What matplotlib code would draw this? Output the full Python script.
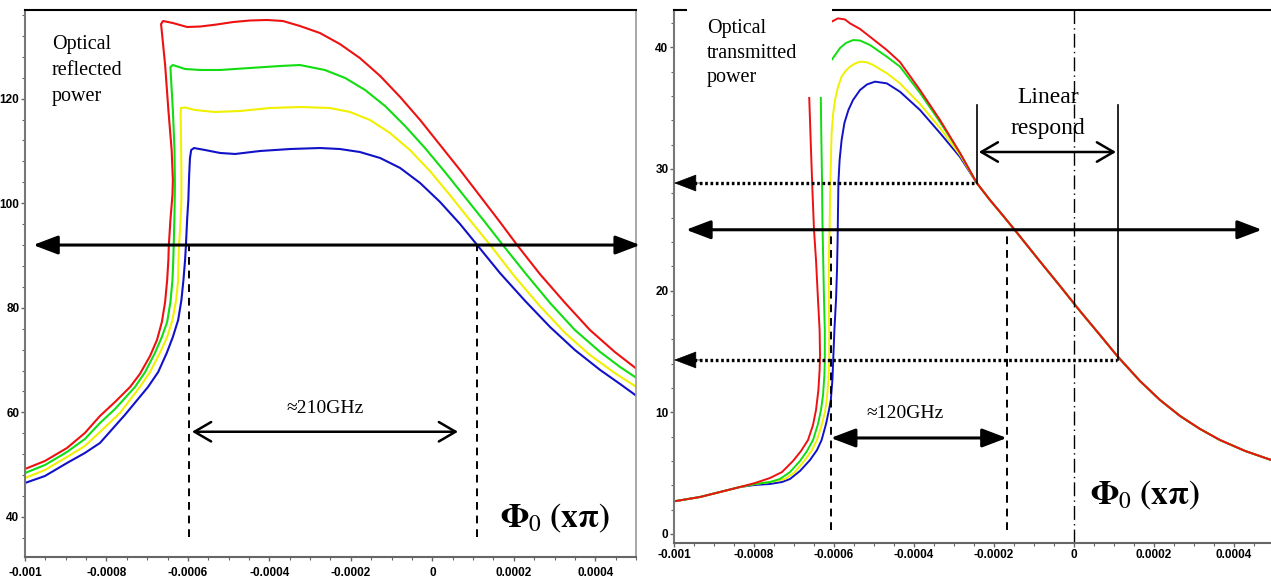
import matplotlib
matplotlib.use("Agg")
import matplotlib.pyplot as plt
import matplotlib.patches as mpatches
from matplotlib.ticker import MultipleLocator, FixedLocator, FixedFormatter

plt.rcParams['mathtext.fontset'] = 'stix'

# x values are in units of 1e-4 (phase offset, x pi)
# ---------------- left panel: optical reflected power ----------------
refl_red_x = [-10.00, -9.51, -8.97, -8.53, -8.16, -7.79, -7.42, -7.18, -6.93, -6.76, -6.64, -6.56, -6.51,
              -6.48, -6.47, -6.43, -6.38, -6.37, -6.40, -6.48, -6.56, -6.64, -6.66, -6.61, -6.37, -6.02,
              -5.70, -5.29, -4.89, -4.48, -4.06, -3.67, -3.25, -2.76, -2.27, -1.78, -1.28, -0.79, -0.30,
              0.19, 0.68, 1.17, 1.66, 2.08, 2.64, 3.26, 3.87, 4.48, 5.05]
refl_red_y = [49.18, 50.71, 53.19, 56.06, 59.31, 61.99, 64.86, 67.34, 70.78, 73.84, 77.28, 81.11, 85.31,
              89.14, 91.81, 96.79, 101.57, 104.43, 110.17, 117.82, 126.42, 132.73, 134.26, 134.84, 134.45,
              133.69, 133.78, 134.17, 134.64, 134.93, 135.03, 134.84, 133.88, 132.54, 130.44, 127.76,
              124.32, 120.30, 115.91, 111.13, 106.35, 101.38, 96.40, 92.01, 86.46, 80.92, 75.75, 71.55, 68.11]
refl_green_x = [-10.00, -9.51, -8.97, -8.53, -8.16, -7.79, -7.30, -7.05, -6.81, -6.64, -6.51, -6.43, -6.38,
                -6.36, -6.35, -6.33, -6.32, -6.33, -6.37, -6.42, -6.43, -6.37, -6.07, -5.70, -5.21, -4.48,
                -3.74, -3.25, -2.64, -2.14, -1.65, -1.16, -0.67, -0.18, 0.31, 0.80, 1.29, 1.73, 2.28, 2.89,
                3.50, 4.12, 4.61, 5.05]
refl_green_y = [48.41, 49.94, 52.43, 54.91, 57.97, 60.65, 64.86, 67.72, 71.36, 74.42, 77.28, 81.11, 85.31,
                89.14, 91.81, 97.74, 103.48, 110.17, 117.82, 124.51, 126.04, 126.42, 125.66, 125.47, 125.47,
                125.85, 126.23, 126.42, 125.47, 123.94, 121.64, 118.58, 114.76, 110.55, 105.96, 101.18,
                96.40, 92.01, 86.65, 80.92, 75.75, 71.55, 68.68, 66.39]
refl_yellow_x = [-10.00, -9.51, -8.97, -8.53, -8.16, -7.67, -7.18, -6.93, -6.69, -6.51, -6.38, -6.29, -6.24,
                 -6.23, -6.22, -6.18, -6.16, -6.16, -6.17, -6.18, -6.17, -6.07, -5.83, -5.34, -4.72, -3.99,
                 -3.25, -2.51, -2.02, -1.53, -1.04, -0.55, -0.06, 0.43, 0.92, 1.42, 2.03, 2.64, 3.26, 3.87,
                 4.48, 5.05]
refl_yellow_y = [47.46, 48.99, 51.47, 53.58, 56.25, 59.88, 64.86, 67.72, 71.36, 74.42, 77.67, 81.49, 85.31,
                 89.14, 91.81, 96.79, 100.61, 106.35, 112.08, 116.86, 118.20, 118.30, 117.82, 117.44, 117.63,
                 118.20, 118.39, 118.20, 117.44, 115.91, 113.42, 110.17, 106.16, 101.57, 96.79, 92.01,
                 85.89, 80.34, 75.18, 70.97, 67.53, 64.66]
refl_blue_x = [-10.00, -9.51, -8.97, -8.53, -8.16, -7.55, -6.98, -6.73, -6.52, -6.37, -6.24, -6.16, -6.11,
               -6.07, -6.05, -6.02, -5.99, -5.97, -5.95, -5.92, -5.85, -5.58, -5.21, -4.84, -4.23, -3.49,
               -2.76, -2.27, -1.78, -1.28, -0.79, -0.30, 0.19, 0.68, 1.10, 1.66, 2.28, 2.89, 3.50, 4.12,
               4.61, 5.05]
refl_blue_y = [46.50, 47.84, 50.32, 52.24, 54.15, 59.50, 64.86, 67.72, 71.36, 74.42, 77.67, 81.49, 85.31,
               89.14, 91.81, 96.79, 100.61, 105.39, 108.64, 110.17, 110.55, 110.17, 109.60, 109.41, 109.98,
               110.36, 110.55, 110.36, 109.79, 108.64, 106.73, 103.86, 100.23, 96.02, 92.01, 86.65, 81.30,
               76.33, 71.93, 68.11, 65.43, 62.94]

# ---------------- right panel: optical transmitted power ----------------
tail_x = [-2.10, -1.85, -1.48, -0.90, -0.35, 0.15, 0.65, 1.08, 1.65, 2.15, 2.65, 3.15, 3.65, 4.28, 4.93]
tail_y = [27.44, 26.46, 24.98, 22.60, 20.38, 18.32, 16.35, 14.63, 12.57, 11.01, 9.70, 8.63, 7.72, 6.82, 6.08]

trans_red_x = [-9.95, -9.35, -8.85, -8.35, -7.975, -7.60, -7.30, -7.025, -6.825, -6.65, -6.525, -6.45, -6.39,
               -6.36, -6.35, -6.36, -6.40, -6.45, -6.50, -6.54, -6.575, -6.62, -6.65, -6.35, -6.06, -5.90,
               -5.725, -5.60, -5.35, -5.10, -4.68, -4.35, -3.85, -3.35, -2.85, -2.43] + tail_x
trans_red_y = [2.71, 3.04, 3.45, 3.86, 4.19, 4.60, 5.09, 6.00, 6.82, 7.72, 8.96, 10.19, 11.83,
               13.48, 14.71, 16.76, 19.23, 22.51, 24.98, 28.27, 31.55, 35.91, 38.13, 40.59, 42.10, 42.37,
               42.28, 41.96, 41.50, 40.86, 39.77, 38.78, 36.48, 34.02, 31.31, 28.84] + tail_y
trans_green_x = [-9.95, -9.35, -8.85, -8.35, -7.975, -7.60, -7.35, -7.10, -6.85, -6.675, -6.525, -6.40, -6.325,
                 -6.275, -6.24, -6.23, -6.23, -6.25, -6.27, -6.29, -6.30, -6.32, -6.33, -6.33, -6.20, -6.06,
                 -5.85, -5.70, -5.52, -5.35, -5.10, -4.68, -4.35, -3.85, -3.35, -2.85, -2.43] + tail_x
trans_green_y = [2.71, 3.04, 3.45, 3.86, 4.11, 4.27, 4.52, 5.09, 6.00, 6.82, 7.72, 9.04, 10.19,
                 11.42, 13.07, 14.30, 16.76, 19.23, 22.51, 25.80, 29.09, 33.20, 35.91, 37.72, 38.54, 38.95,
                 39.93, 40.35, 40.59, 40.55, 40.18, 39.22, 38.40, 36.24, 33.85, 31.31, 28.84] + tail_y
trans_yellow_x = [-9.95, -9.35, -8.85, -8.35, -7.975, -7.60, -7.225, -6.975, -6.725, -6.55, -6.425, -6.30,
                  -6.225, -6.175, -6.14, -6.12, -6.12, -6.13, -6.13, -6.11, -6.10, -6.08, -6.06, -6.025,
                  -5.975, -5.90, -5.81, -5.70, -5.60, -5.475, -5.35, -5.20, -5.02, -4.68, -4.35, -3.85,
                  -3.35, -2.85, -2.43] + tail_x
trans_yellow_y = [2.71, 3.04, 3.45, 3.86, 4.11, 4.27, 4.52, 5.09, 6.08, 6.90, 7.72, 9.04,
                  10.02, 11.18, 12.65, 14.30, 16.76, 19.23, 22.51, 24.98, 27.44, 30.32, 32.95, 34.43,
                  35.66, 36.73, 37.58, 38.09, 38.40, 38.66, 38.81, 38.78, 38.54, 37.86, 37.03, 35.33,
                  33.36, 31.14, 28.84] + tail_y
trans_blue_x = [-9.95, -9.35, -8.85, -8.35, -7.975, -7.60, -7.30, -7.10, -6.85, -6.60, -6.425, -6.31, -6.20,
                -6.125, -6.08, -6.04, -6.02, -5.99, -5.95, -5.925, -5.91, -5.90, -5.89, -5.86, -5.81, -5.74,
                -5.64, -5.525, -5.35, -5.175, -4.975, -4.68, -4.35, -3.85, -3.35, -2.85, -2.43] + tail_x
trans_blue_y = [2.71, 3.04, 3.45, 3.86, 4.03, 4.11, 4.27, 4.52, 5.18, 6.08, 6.90, 7.72, 9.04,
                10.19, 11.01, 12.65, 14.30, 16.76, 19.23, 21.69, 24.16, 26.62, 28.84, 30.73, 32.37, 33.77,
                34.84, 35.66, 36.48, 36.94, 37.17, 37.03, 36.34, 34.84, 32.95, 30.98, 28.84] + tail_y

x_ticks = [-10, -8, -6, -4, -2, 0, 2, 4]
x_labels = ['-0.001', '-0.0008', '-0.0006', '-0.0004', '-0.0002', '0', '0.0002', '0.0004']
refl_yticks = [40, 60, 80, 100, 120]
trans_yticks = [0, 10, 20, 30, 40]

colors = {'red': '#ee1111', 'green': '#11dd11', 'yellow': '#f0f000', 'blue': '#1111c8'}
serif = 'Liberation Serif'
phi_label = r'$\mathbf{\Phi}_{0}\ \mathbf{(x\pi)}$'

fig = plt.figure(figsize=(12.71, 5.8), dpi=100)
ax1 = fig.add_axes([0.01967, 0.03966, 0.48072, 0.94310])
ax2 = fig.add_axes([0.5303, 0.0638, 0.4697, 0.9190])


def style_axes(ax, yticks, yminor, xpad):
    ax.xaxis.set_major_locator(FixedLocator(x_ticks))
    ax.xaxis.set_major_formatter(FixedFormatter(x_labels))
    ax.xaxis.set_minor_locator(MultipleLocator(0.5))
    ax.yaxis.set_major_locator(FixedLocator(yticks))
    ax.yaxis.set_minor_locator(MultipleLocator(yminor))
    ax.tick_params(which='major', direction='out', length=3, width=1, color='#666666', pad=1)
    ax.tick_params(axis='x', which='major', pad=xpad)
    ax.tick_params(which='minor', direction='out', length=2, width=0.8, color='#666666')
    for lab in ax.get_xticklabels() + ax.get_yticklabels():
        lab.set_fontfamily('Liberation Sans')
        lab.set_fontweight('bold')
        lab.set_fontsize(8.5)
    ax.spines['left'].set_color('#777777')
    ax.spines['bottom'].set_color('#666666')
    ax.spines['left'].set_linewidth(1.5)
    ax.spines['bottom'].set_linewidth(1.5)
    ax.spines['top'].set_color('black')
    ax.spines['top'].set_linewidth(1.5)


def filled_arrow(ax, x0, x1, y, style='<|-|>', lw=2.2):
    ax.annotate('', xy=(x1, y), xytext=(x0, y), annotation_clip=False,
                arrowprops=dict(arrowstyle=style + ',head_length=1.0,head_width=0.38',
                                mutation_scale=15, lw=lw, color='black',
                                shrinkA=0, shrinkB=0), zorder=5)


def open_arrow(ax, x0, x1, y):
    ax.annotate('', xy=(x1, y), xytext=(x0, y), annotation_clip=False,
                arrowprops=dict(arrowstyle='<->,head_length=0.6,head_width=0.35',
                                mutation_scale=20, lw=1.8, color='black',
                                shrinkA=0, shrinkB=0), zorder=5)


# ---------------- left panel ----------------
ax1.plot(refl_blue_x, refl_blue_y, color=colors['blue'], lw=1.5)
ax1.plot(refl_yellow_x, refl_yellow_y, color=colors['yellow'], lw=1.5)
ax1.plot(refl_green_x, refl_green_y, color=colors['green'], lw=1.5)
ax1.plot(refl_red_x, refl_red_y, color=colors['red'], lw=1.5)
ax1.set_xlim(-10, 5)
ax1.set_ylim(32.35, 136.94)
style_axes(ax1, refl_yticks, 4, 4.5)
ax1.spines['right'].set_color('#999999')
ax1.spines['right'].set_linewidth(1.2)

filled_arrow(ax1, -9.80, 5.10, 92.0)
for xv in [-5.97, 1.10]:
    ax1.plot([xv, xv], [36.2, 91.8], color='black', lw=1.4, ls=(0, (4, 3)))
open_arrow(ax1, -5.90, 0.63, 56.3)
ax1.text(-2.64, 60.8, '≈210GHz', family=serif, fontsize=14, ha='center', va='center')
ax1.text(-9.34, 132.2, 'Optical\nreflected\npower', family=serif, fontsize=14.5,
         ha='left', va='top', linespacing=1.5)
ax1.text(1.66, 39.8, phi_label, fontsize=24, ha='left', va='center')

# ---------------- right panel ----------------
ax2.plot(trans_blue_x, trans_blue_y, color=colors['blue'], lw=1.4)
ax2.plot(trans_yellow_x, trans_yellow_y, color=colors['yellow'], lw=1.4)
ax2.plot(trans_green_x, trans_green_y, color=colors['green'], lw=1.4)
ax2.plot(trans_red_x, trans_red_y, color=colors['red'], lw=1.4)
ax2.set_xlim(-10, 4.925)
ax2.set_ylim(-0.74, 43.06)
style_axes(ax2, trans_yticks, 2, 1.5)
ax2.spines['right'].set_visible(False)

# dotted level lines with arrowheads on the axis
for yv, xr in [(28.84, -2.43), (14.30, 1.08)]:
    ax2.plot([-9.5, xr], [yv, yv], color='black', lw=2.4, ls=(0, (0.8, 0.8)))
    filled_arrow(ax2, -9.3, -10.0, yv, style='-|>', lw=0.5)

filled_arrow(ax2, -9.70, 4.70, 25.0)
ax2.plot([-2.43, -2.43], [28.84, 35.25], color='black', lw=1.2)
ax2.plot([1.10, 1.10], [14.30, 35.25], color='black', lw=1.2)
open_arrow(ax2, -2.38, 1.05, 31.39)
ax2.text(-0.65, 34.6, 'Linear\nrespond', family=serif, fontsize=17, ha='center', va='center',
         linespacing=1.6, zorder=6)
ax2.axvline(0, color='black', lw=1.0, ls=(0, (10, 3, 1, 3)))
for xv in [-6.08, -1.68]:
    ax2.plot([xv, xv], [0.33, 25.0], color='black', lw=1.4, ls=(0, (4, 3)))
filled_arrow(ax2, -6.08, -1.68, 7.89)
ax2.text(-4.23, 9.94, '≈120GHz', family=serif, fontsize=14, ha='center', va='center')
ax2.text(0.40, 3.2, phi_label, fontsize=24, ha='left', va='center')

# white label box covering the top of the fold
ax2.add_patch(mpatches.Rectangle((-9.675, 35.91), 3.625, 8.5, facecolor='white', edgecolor='none',
                                 zorder=4, clip_on=False))
ax2.text(-9.18, 42.3, 'Optical\ntransmitted\npower', family=serif, fontsize=14.5,
         ha='left', va='top', linespacing=1.4, zorder=6)

fig.savefig('out.png', dpi=100)
